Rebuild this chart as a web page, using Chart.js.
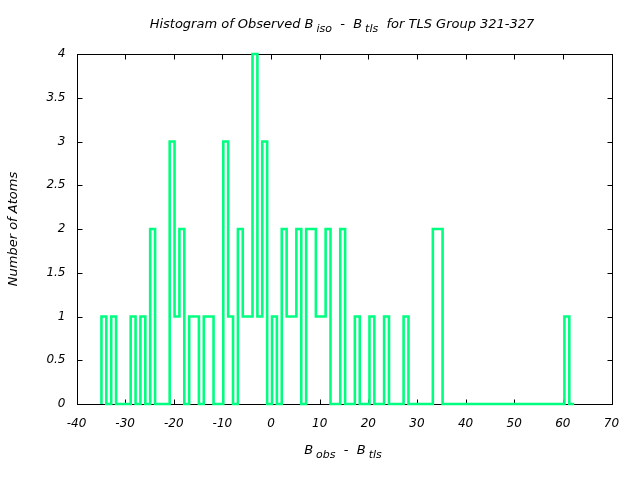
<!DOCTYPE html>
<html>
<head>
<meta charset="UTF-8">
<title>Histogram B iso - B tls</title>
<script src="https://cdn.jsdelivr.net/npm/chart.js"></script>
<style>
  body { margin: 0; background: #fff; }
  canvas { display: block; }
</style>
</head>
<body>
<canvas id="histChart" width="640" height="480" style="width:640px;height:480px"></canvas>
<script>
  // bins: left edge of the first bin and width
  const binStart = -34.87;
  const binWidth = 1.002;
  // number of atoms per bin, left to right
  const counts = [
    1, 0, 1, 0, 0, 0, 1, 0, 1, 0,
    2, 0, 0, 0, 3, 1, 2, 0, 1, 1,
    0, 1, 1, 0, 0, 3, 1, 0, 2, 1,
    1, 4, 1, 3, 0, 1, 0, 2, 1, 1,
    2, 0, 2, 2, 1, 1, 2, 0, 0, 2,
    0, 0, 1, 0, 0, 1, 0, 0, 1, 0,
    0, 0, 1, 0, 0, 0, 0, 0, 2, 2,
    0, 0, 0, 0, 0, 0, 0, 0, 0, 0,
    0, 0, 0, 0, 0, 0, 0, 0, 0, 0,
    0, 0, 0, 0, 0, 1, 0
  ];
  const xTicks = [-40, -30, -20, -10, 0, 10, 20, 30, 40, 50, 60, 70];
  const yTicks = [0, 0.5, 1, 1.5, 2, 2.5, 3, 3.5, 4];

  const fonte = 'DejaVu Sans';
  const corLinha = '#00ff80';

  // pontos do degrau: cada bin começa na sua borda esquerda
  const pontos = [{ x: binStart, y: 0 }];
  counts.forEach(function (c, i) {
    pontos.push({ x: binStart + i * binWidth, y: c });
  });
  pontos.push({ x: binStart + counts.length * binWidth, y: 0 });

  // texto com subscritos no estilo do gnuplot
  function desenharTexto(ctx, partes, cx, cy, tam) {
    ctx.save();
    ctx.textBaseline = 'middle';
    ctx.textAlign = 'left';
    ctx.fillStyle = '#000';
    let total = 0;
    partes.forEach(function (p) {
      ctx.font = 'italic ' + (p.sub ? tam - 2 : tam) + 'px "' + fonte + '"';
      total += ctx.measureText(p.t).width + (p.gap || 0);
    });
    let x = cx - total / 2;
    partes.forEach(function (p) {
      ctx.font = 'italic ' + (p.sub ? tam - 2 : tam) + 'px "' + fonte + '"';
      x += (p.gap || 0);
      ctx.fillText(p.t, x, cy + (p.sub ? 4 : 0));
      x += ctx.measureText(p.t).width;
    });
    ctx.restore();
  }

  const molduraPlugin = {
    id: 'moldura',
    beforeDatasetsDraw(chart) {
      const ctx = chart.ctx;
      const a = chart.chartArea;
      const l = Math.round(a.left) + 0.5, r = Math.round(a.right) + 0.5;
      const t = Math.round(a.top) + 0.5, b = Math.round(a.bottom) + 0.5;
      const tam = 5;
      ctx.save();
      ctx.strokeStyle = '#000';
      ctx.lineWidth = 1;
      ctx.strokeRect(l, t, r - l, b - t);
      ctx.beginPath();
      xTicks.forEach(function (v) {
        const px = Math.round(chart.scales.x.getPixelForValue(v)) + 0.5;
        ctx.moveTo(px, b); ctx.lineTo(px, b - tam);
        ctx.moveTo(px, t); ctx.lineTo(px, t + tam);
      });
      yTicks.forEach(function (v) {
        const py = Math.round(chart.scales.y.getPixelForValue(v)) + 0.5;
        ctx.moveTo(l, py); ctx.lineTo(l + tam, py);
        ctx.moveTo(r, py); ctx.lineTo(r - tam, py);
      });
      ctx.stroke();
      ctx.restore();
    },
    afterDraw(chart) {
      const ctx = chart.ctx;
      desenharTexto(ctx, [
        { t: 'Histogram of Observed B' },
        { t: 'iso', sub: true, gap: 3 },
        { t: '  -  B' },
        { t: 'tls', sub: true, gap: 3 },
        { t: '  for TLS Group 321-327' }
      ], 342, 25, 13);
      desenharTexto(ctx, [
        { t: 'B' },
        { t: 'obs', sub: true, gap: 3 },
        { t: '  -  B' },
        { t: 'tls', sub: true, gap: 3 }
      ], 343, 451, 13);
      ctx.save();
      ctx.translate(14, 229);
      ctx.rotate(-Math.PI / 2);
      desenharTexto(ctx, [{ t: 'Number of Atoms' }], 0, 0, 13);
      ctx.restore();
    }
  };

  const fonteTicks = { family: fonte, size: 12, style: 'italic' };

  new Chart(document.getElementById('histChart'), {
    type: 'line',
    data: {
      datasets: [{
        data: pontos,
        stepped: 'before',
        borderColor: corLinha,
        borderWidth: 2.6,
        pointRadius: 0,
        fill: false,
        clip: false
      }]
    },
    options: {
      responsive: false,
      animation: false,
      layout: { padding: { left: 0, right: 28.5, top: 54, bottom: 0 } },
      plugins: { legend: { display: false }, tooltip: { enabled: false } },
      scales: {
        x: {
          type: 'linear',
          min: -40,
          max: 70,
          afterBuildTicks: function (s) { s.ticks = xTicks.map(function (v) { return { value: v }; }); },
          afterFit: function (s) { s.height = 76; },
          grid: { display: false, drawTicks: false },
          border: { display: false },
          ticks: {
            font: fonteTicks, color: '#000', padding: 13, maxRotation: 0, autoSkip: false,
            callback: function (v) { return String(v); }
          }
        },
        y: {
          type: 'linear',
          min: 0,
          max: 4,
          afterBuildTicks: function (s) { s.ticks = yTicks.map(function (v) { return { value: v }; }); },
          afterFit: function (s) { s.width = 76.5; },
          grid: { display: false, drawTicks: false },
          border: { display: false },
          ticks: {
            font: fonteTicks, color: '#000', padding: 11, autoSkip: false,
            callback: function (v) { return String(v); }
          }
        }
      }
    },
    plugins: [molduraPlugin]
  });
</script>
</body>
</html>
